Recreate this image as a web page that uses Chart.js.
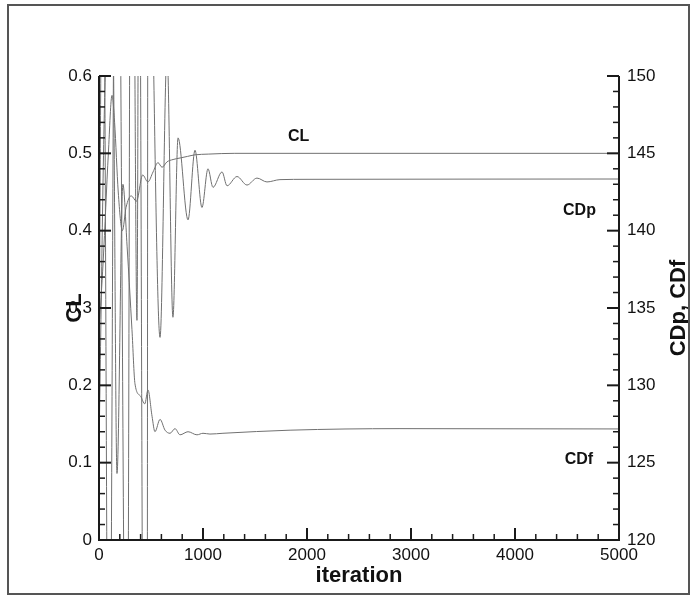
<!DOCTYPE html>
<html>
<head>
<meta charset="utf-8">
<script src="https://cdn.jsdelivr.net/npm/chart.js@4.4.1/dist/chart.umd.min.js"></script>
<style>
  html, body { margin: 0; padding: 0; background: #fff; }
  #wrap { position: relative; width: 691px; height: 598px; }
  #frame { position: absolute; left: 7px; top: 4px; width: 683px; height: 591px; border: 2px solid #555; box-sizing: border-box; pointer-events: none; }
</style>
</head>
<body>
<div id="wrap">
  <canvas id="chart" width="691" height="598"></canvas>
  <div id="frame"></div>
</div>
<script>
// CL history (left axis)
const clIter = [0, 40, 90, 125, 150, 185, 225, 260, 310, 360, 420, 470, 520, 567, 606, 654, 712, 780, 850, 920, 1050, 1300, 2000, 5000];
const clVals = [0.27, 0.36, 0.50, 0.575, 0.54, 0.45, 0.40, 0.43, 0.445, 0.438, 0.472, 0.463, 0.476, 0.488, 0.482, 0.489, 0.492, 0.494, 0.496, 0.498, 0.499, 0.5, 0.5, 0.5];

// CDp history (right axis)
const cdpIter = [0, 38, 96, 163, 183, 269, 308, 335, 365, 385, 433, 462, 471, 587, 654, 711, 760, 856, 923, 990, 1048, 1096, 1183, 1231, 1327, 1423, 1519, 1615, 1740, 2000, 5000];
const cdpVals = [131, 165, 100, 172, 170, 100, 170, 160, 134.2, 165, 100, 100, 165, 133.1, 151.5, 134.4, 146.0, 140.7, 145.2, 141.5, 144.0, 142.8, 143.8, 142.9, 143.5, 142.95, 143.4, 143.15, 143.3, 143.32, 143.34];

// CDf history (right axis)
const cdfIter = [0, 60, 130, 173, 230, 270, 317, 346, 400, 440, 471, 510, 538, 587, 635, 683, 731, 779, 856, 942, 1000, 1067, 1192, 1837, 2894, 5000];
const cdfVals = [126, 150, 155, 124.3, 143, 139, 133.6, 130.1, 129.3, 128.8, 129.7, 128.0, 127.0, 127.8, 127.1, 126.9, 127.2, 126.8, 127.0, 126.8, 126.9, 126.85, 126.9, 127.1, 127.2, 127.18];

// axis ticks
const xMajor = [0, 1000, 2000, 3000, 4000, 5000];
const clMajor = [0, 0.1, 0.2, 0.3, 0.4, 0.5, 0.6];
const cdMajor = [120, 125, 130, 135, 140, 145, 150];

const toPoints = (xs, ys) => xs.map((x, i) => ({ x: x, y: ys[i] }));
const lineColor = '#707070';
const fontFamily = "'Liberation Sans', Arial, Helvetica, sans-serif";

const axisDecor = {
  id: 'axisDecor',
  afterDraw(chart) {
    const ctx = chart.ctx;
    const a = chart.chartArea;
    const sx = chart.scales.x, sl = chart.scales.y, sr = chart.scales.y2;
    ctx.save();
    ctx.strokeStyle = '#1a1a1a';
    ctx.lineCap = 'butt';

    // axis lines (no top line)
    ctx.lineWidth = 2;
    ctx.beginPath();
    ctx.moveTo(a.left, a.top); ctx.lineTo(a.left, a.bottom); ctx.lineTo(a.right, a.bottom); ctx.lineTo(a.right, a.top);
    ctx.stroke();

    function ticks(major, nMinor, scale, draw) {
      for (let i = 0; i < major.length; i++) {
        draw(scale.getPixelForValue(major[i]), 12, 2);
        if (i < major.length - 1) {
          const step = (major[i + 1] - major[i]) / nMinor;
          for (let k = 1; k < nMinor; k++) draw(scale.getPixelForValue(major[i] + k * step), 6, 1.5);
        }
      }
    }
    ticks(xMajor, 5, sx, (px, len, w) => {
      ctx.lineWidth = w; ctx.beginPath(); ctx.moveTo(px, a.bottom); ctx.lineTo(px, a.bottom - len); ctx.stroke();
    });
    ticks(clMajor, 5, sl, (py, len, w) => {
      ctx.lineWidth = w; ctx.beginPath(); ctx.moveTo(a.left, py); ctx.lineTo(a.left + len, py); ctx.stroke();
    });
    ticks(cdMajor, 5, sr, (py, len, w) => {
      ctx.lineWidth = w; ctx.beginPath(); ctx.moveTo(a.right, py); ctx.lineTo(a.right - len, py); ctx.stroke();
    });

    // curve labels
    ctx.fillStyle = '#111';
    ctx.textAlign = 'center';
    ctx.textBaseline = 'middle';
    ctx.font = 'bold 16px ' + fontFamily;
    ctx.fillText('CL', sx.getPixelForValue(1920), sl.getPixelForValue(0.521));
    ctx.fillText('CDp', sx.getPixelForValue(4620), sr.getPixelForValue(141.3));
    ctx.fillText('CDf', sx.getPixelForValue(4615), sr.getPixelForValue(125.2));

    // axis titles
    ctx.font = 'bold 22px ' + fontFamily;
    ctx.fillText('iteration', (a.left + a.right) / 2, 576);
    ctx.save();
    ctx.translate(75, (a.top + a.bottom) / 2);
    ctx.rotate(-Math.PI / 2);
    ctx.fillText('CL', 0, 0);
    ctx.restore();
    ctx.save();
    ctx.translate(679, (a.top + a.bottom) / 2);
    ctx.rotate(-Math.PI / 2);
    ctx.fillText('CDp, CDf', 0, 0);
    ctx.restore();
    ctx.restore();
  }
};

const tickFont = { family: fontFamily, size: 17 };
const plain = v => String(Math.round(v * 1000) / 1000);
const lineStyle = { borderColor: lineColor, borderWidth: 1, pointRadius: 0, cubicInterpolationMode: 'monotone', fill: false };

new Chart(document.getElementById('chart'), {
  type: 'line',
  data: {
    datasets: [
      Object.assign({ label: 'CL', data: toPoints(clIter, clVals), yAxisID: 'y' }, lineStyle),
      Object.assign({ label: 'CDp', data: toPoints(cdpIter, cdpVals), yAxisID: 'y2' }, lineStyle),
      Object.assign({ label: 'CDf', data: toPoints(cdfIter, cdfVals), yAxisID: 'y2' }, lineStyle)
    ]
  },
  options: {
    responsive: false,
    animation: false,
    layout: { padding: { top: 76, left: 0, right: 0, bottom: 0 } },
    plugins: { legend: { display: false }, tooltip: { enabled: false }, title: { display: false } },
    scales: {
      x: {
        type: 'linear', min: 0, max: 5000,
        grid: { display: false, drawTicks: false },
        border: { display: false },
        ticks: { stepSize: 1000, padding: 5, font: tickFont, color: '#111', maxRotation: 0, callback: plain },
        afterFit: s => { s.height = 58; }
      },
      y: {
        type: 'linear', position: 'left', min: 0, max: 0.6,
        grid: { display: false, drawTicks: false },
        border: { display: false },
        ticks: { stepSize: 0.1, padding: 7, font: tickFont, color: '#111', callback: plain },
        afterFit: s => { s.width = 99; }
      },
      y2: {
        type: 'linear', position: 'right', min: 120, max: 150,
        grid: { display: false, drawTicks: false },
        border: { display: false },
        ticks: { stepSize: 5, padding: 8, font: tickFont, color: '#111', callback: plain },
        afterFit: s => { s.width = 72; }
      }
    }
  },
  plugins: [axisDecor]
});
</script>
</body>
</html>
